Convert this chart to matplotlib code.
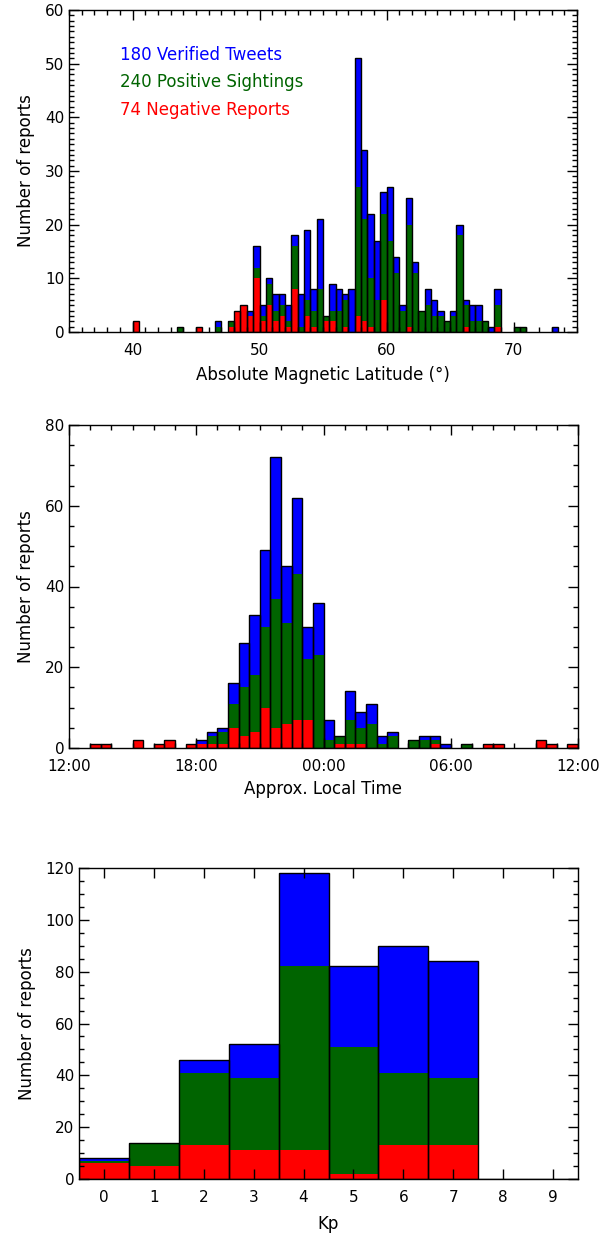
import numpy as np
import matplotlib
matplotlib.use('Agg')
import matplotlib.pyplot as plt
from matplotlib.ticker import MultipleLocator, FixedLocator

# colours used for the three report types
neg_color = '#ff0000'
pos_color = '#006400'
ver_color = '#0000ff'

# panel 1: absolute magnetic latitude, 0.5 deg bins (left edges), counts per type
lat_bins = [40.0, 43.5, 45.0, 46.5, 47.5, 48.0, 48.5, 49.0, 49.5, 50.0,
            50.5, 51.0, 51.5, 52.0, 52.5, 53.0, 53.5, 54.0, 54.5, 55.0,
            55.5, 56.0, 56.5, 57.0, 57.5, 58.0, 58.5, 59.0, 59.5, 60.0,
            60.5, 61.0, 61.5, 62.0, 62.5, 63.0, 63.5, 64.0, 64.5, 65.0,
            65.5, 66.0, 66.5, 67.0, 67.5, 68.0, 68.5, 70.0, 70.5, 73.0]
lat_neg = [2, 0, 1, 0, 1, 4, 5, 3, 10, 2,
           5, 2, 3, 1, 8, 0, 3, 1, 0, 2,
           2, 0, 1, 0, 3, 2, 1, 0, 6, 0,
           0, 0, 1, 0, 0, 0, 0, 0, 0, 0,
           0, 1, 0, 0, 0, 0, 1, 0, 0, 0]
lat_pos = [0, 1, 0, 1, 1, 0, 0, 0, 2, 1,
           4, 2, 2, 1, 8, 1, 3, 3, 8, 1,
           2, 4, 5, 0, 24, 19, 9, 6, 16, 17,
           11, 4, 19, 11, 4, 5, 3, 3, 2, 3,
           18, 4, 2, 2, 2, 0, 4, 1, 1, 0]
lat_ver = [0, 0, 0, 1, 0, 0, 0, 1, 4, 2,
           1, 3, 2, 3, 2, 6, 13, 4, 13, 0,
           5, 4, 1, 8, 24, 13, 12, 11, 4, 10,
           3, 1, 5, 2, 0, 3, 3, 1, 0, 1,
           2, 1, 3, 3, 0, 1, 3, 0, 0, 1]

# panel 2: local time, 0.5 h bins, hours after 12:00 (left edges)
lt_bins = [1.0, 1.5, 3.0, 4.0, 4.5, 5.5, 6.0, 6.5, 7.0, 7.5,
           8.0, 8.5, 9.0, 9.5, 10.0, 10.5, 11.0, 11.5, 12.0, 12.5,
           13.0, 13.5, 14.0, 14.5, 15.0, 16.0, 16.5, 17.0, 17.5, 18.5,
           19.5, 20.0, 22.0, 22.5, 23.5]
lt_neg = [1, 1, 2, 1, 2, 1, 1, 1, 1, 5,
          3, 4, 10, 5, 6, 7, 7, 0, 0, 1,
          1, 1, 0, 0, 0, 0, 0, 1, 0, 0,
          1, 1, 2, 1, 1]
lt_pos = [0, 0, 0, 0, 0, 0, 0, 2, 3, 6,
          12, 14, 20, 32, 25, 36, 15, 23, 2, 2,
          6, 4, 6, 1, 3, 2, 2, 1, 0, 1,
          0, 0, 0, 0, 0]
lt_ver = [0, 0, 0, 0, 0, 0, 1, 1, 1, 5,
          11, 15, 19, 35, 14, 19, 8, 13, 5, 0,
          7, 4, 5, 2, 1, 0, 1, 1, 1, 0,
          0, 0, 0, 0, 0]
lt_ticks = [0, 6, 12, 18, 24]
lt_labels = ['12:00', '18:00', '00:00', '06:00', '12:00']

# panel 3: Kp
kp = [0, 1, 2, 3, 4, 5, 6, 7, 8, 9]
kp_neg = [6, 5, 13, 11, 11, 2, 13, 13, 0, 0]
kp_pos = [1, 9, 28, 28, 71, 49, 28, 26, 0, 0]
kp_ver = [1, 0, 5, 13, 36, 31, 49, 45, 0, 0]

legend_text = ['180 Verified Tweets', '240 Positive Sightings', '74 Negative Reports']

plt.rcParams['font.family'] = ['DejaVu Sans']
plt.rcParams['font.size'] = 11


def stacked(ax, x, neg, pos, ver, width, align='edge'):
    neg = np.array(neg)
    pos = np.array(pos)
    ver = np.array(ver)
    ax.bar(x, neg, width, align=align, color=neg_color, lw=0)
    ax.bar(x, pos, width, bottom=neg, align=align, color=pos_color, lw=0)
    ax.bar(x, ver, width, bottom=neg + pos, align=align, color=ver_color, lw=0)
    ax.bar(x, neg + pos + ver, width, align=align, fill=False, edgecolor='black', lw=1.0)


def style(ax):
    ax.tick_params(which='both', direction='in', top=True, right=True, labelsize=11)
    ax.tick_params(which='major', length=7, width=1)
    ax.tick_params(which='minor', length=3.5, width=1)
    ax.tick_params(axis='x', pad=8)
    for s in ax.spines.values():
        s.set_linewidth(1.0)
    ax.set_ylabel('Number of reports', fontsize=12, labelpad=7)


W, H = 602, 1236
fig = plt.figure(figsize=(W / 100, H / 100), dpi=100)

# top panel
ax1 = fig.add_axes([69 / W, 1 - 332 / H, 508 / W, 322 / H])
stacked(ax1, lat_bins, lat_neg, lat_pos, lat_ver, 0.5)
ax1.set_xlim(35, 75)
ax1.set_ylim(0, 60)
ax1.xaxis.set_major_locator(MultipleLocator(10))
ax1.xaxis.set_minor_locator(MultipleLocator(1))
ax1.yaxis.set_major_locator(MultipleLocator(10))
ax1.yaxis.set_minor_locator(MultipleLocator(1))
style(ax1)
ax1.set_xlabel('Absolute Magnetic Latitude (°)', fontsize=12, labelpad=6)
for i, (txt, c) in enumerate(zip(legend_text, [ver_color, pos_color, neg_color])):
    ax1.text(0.10, 0.86 - i * 0.085, txt, color=c, fontsize=12,
             transform=ax1.transAxes, va='center', ha='left')

# middle panel
ax2 = fig.add_axes([69 / W, 1 - 748 / H, 509 / W, 323 / H])
stacked(ax2, lt_bins, lt_neg, lt_pos, lt_ver, 0.5)
ax2.set_xlim(0, 24)
ax2.set_ylim(0, 80)
ax2.xaxis.set_major_locator(FixedLocator(lt_ticks))
ax2.set_xticklabels(lt_labels)
ax2.xaxis.set_minor_locator(MultipleLocator(1))
ax2.yaxis.set_major_locator(MultipleLocator(20))
ax2.yaxis.set_minor_locator(MultipleLocator(5))
style(ax2)
ax2.set_xlabel('Approx. Local Time', fontsize=12, labelpad=4)

# bottom panel
ax3 = fig.add_axes([79 / W, 1 - 1179 / H, 499 / W, 311 / H])
stacked(ax3, kp, kp_neg, kp_pos, kp_ver, 1.0, align='center')
ax3.set_xlim(-0.5, 9.5)
ax3.set_ylim(0, 120)
ax3.xaxis.set_major_locator(MultipleLocator(1))
ax3.yaxis.set_major_locator(MultipleLocator(20))
ax3.yaxis.set_minor_locator(MultipleLocator(5))
style(ax3)
ax3.set_xlabel('Kp', fontsize=12, labelpad=7)

fig.savefig('out.png', dpi=100)
